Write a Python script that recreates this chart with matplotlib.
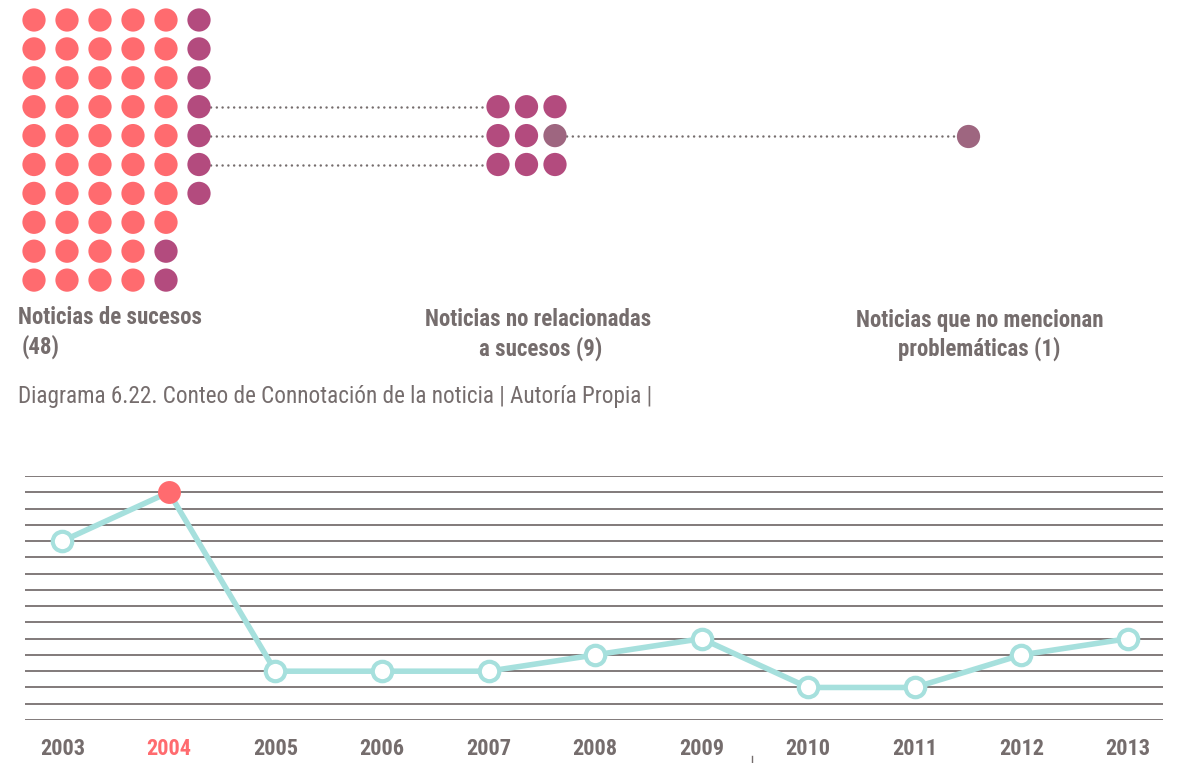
import matplotlib
matplotlib.use('Agg')
import numpy as np
import matplotlib.pyplot as plt
from matplotlib import font_manager

# pick a narrow face for the labels if one is installed
names = {f.name for f in font_manager.fontManager.ttflist}
narrow = [n for n in ['Roboto Condensed', 'Liberation Sans Narrow'] if n in names]
family = narrow + ['DejaVu Sans']

# counts per category
categorias = ['Noticias de sucesos', 'Noticias no relacionadas\na sucesos', 'Noticias que no mencionan\nproblemáticas']
conteos = [48, 9, 1]
total = 57

# yearly counts for the line chart
anios = [2003, 2004, 2005, 2006, 2007, 2008, 2009, 2010, 2011, 2012, 2013]
valores = [11, 14, 3, 3, 3, 4, 5, 2, 2, 4, 5]
anio_max = 2004

coral = '#ff6b6f'
morado = '#b34b7e'
malva = '#9e6680'
gris = '#756d6d'
turquesa = '#a6e0dd'

W, H = 1183, 763
fig = plt.figure(figsize=(W / 100, H / 100), dpi=100)

# --- dot diagram, drawn in pixel space ---
top = fig.add_axes([0, 0, 1, 1])
top.set_xlim(0, W)
top.set_ylim(H, 0)
top.axis('off')

dot_s = 280
x0, dx = 34, 33.0
y0, dy = 20, 28.9
filas = 10

idx = np.arange(total)
col = idx // filas
row = idx % filas
colores = np.where(idx < conteos[0], coral, morado)
top.scatter(x0 + col * dx, y0 + row * dy, s=dot_s, c=list(colores), linewidths=0, zorder=3)

# 3x3 block of unrelated news, one of them with no issue mentioned
mx0, mdx = 498, 28.5
bloque = np.arange(conteos[1])
bcol = bloque % 3
brow = bloque // 3 + 3
bcolores = [morado] * conteos[1]
bcolores[5] = malva
top.scatter(mx0 + bcol * mdx, y0 + brow * dy, s=dot_s, c=bcolores, linewidths=0, zorder=3)

# single dot on the right
rx = 968
top.scatter([rx], [y0 + 4 * dy], s=dot_s, c=malva, linewidths=0, zorder=3)

# dotted connectors
last_col = x0 + (total - 1) // filas * dx
for r in [3, 4, 5]:
    top.plot([last_col, mx0], [y0 + r * dy] * 2, color=gris, lw=1.8,
             linestyle=(0, (0.01, 2.3)), dash_capstyle='round', zorder=1)
top.plot([mx0 + 2 * mdx, rx], [y0 + 4 * dy] * 2, color=gris, lw=1.8,
         linestyle=(0, (0.01, 2.3)), dash_capstyle='round', zorder=1)

lab = dict(color=gris, fontsize=16.5, fontweight='bold', family=family)
top.text(18, 317, categorias[0], ha='left', va='center', **lab)
top.text(22, 347, '(%d)' % conteos[0], ha='left', va='center', **lab)
l1, l2 = categorias[1].split('\n')
top.text(538, 320, l1, ha='center', va='center', **lab)
top.text(541, 349, '%s (%d)' % (l2, conteos[1]), ha='center', va='center', **lab)
l1, l2 = categorias[2].split('\n')
top.text(980, 320, l1, ha='center', va='center', **lab)
top.text(979, 349, '%s (%d)' % (l2, conteos[2]), ha='center', va='center', **lab)

top.text(18, 397, 'Diagrama 6.22. Conteo de Connotación de la noticia | Autoría Propia |',
         ha='left', va='center', color=gris, fontsize=16.7, family=family)
top.plot([752, 752], [756, 763], color=gris, lw=1)

# --- yearly line chart ---
left, right = 25, 1163
bottom, topy = 720, 476
ax = fig.add_axes([left / W, (H - bottom) / H, (right - left) / W, (bottom - topy) / H])
ax.set_xlim(2002.65, 2013.33)
ax.set_ylim(0, 15)
for v in range(16):
    ax.axhline(v, color='#776f6f', lw=1.3, zorder=1)
for s in ax.spines.values():
    s.set_visible(False)
ax.set_yticks([])

ax.plot(anios, valores, color=turquesa, lw=4, zorder=2, clip_on=False)
for a, v in zip(anios, valores):
    if a == anio_max:
        ax.plot(a, v, 'o', ms=16.5, mfc=coral, mec=coral, mew=0, zorder=4, clip_on=False)
    else:
        ax.plot(a, v, 'o', ms=14, mfc='white', mec=turquesa, mew=3, zorder=4, clip_on=False)

ax.set_xticks(anios)
ax.set_xticklabels([str(a) for a in anios], fontsize=16, fontweight='bold', family=family)
ax.tick_params(axis='x', length=0, pad=13, colors=gris)
for t, a in zip(ax.get_xticklabels(), anios):
    t.set_color(coral if a == anio_max else gris)

fig.savefig('out.png', dpi=100)
